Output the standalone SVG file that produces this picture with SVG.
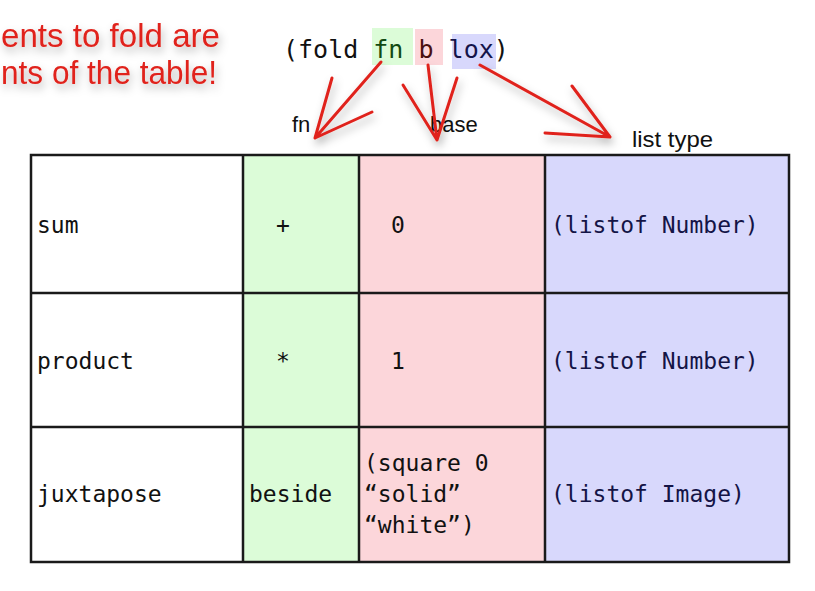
<svg xmlns="http://www.w3.org/2000/svg" width="815" height="591" viewBox="0 0 815 591">
<defs>
<filter id="sh" x="-20%" y="-20%" width="140%" height="160%">
<feDropShadow dx="2" dy="5" stdDeviation="4" flood-color="#000" flood-opacity="0.3"/>
</filter>
<style>
.mono{font-family:"DejaVu Sans Mono","Liberation Mono",monospace;}
.cell{font-size:23px;fill:#111;}
.navy{fill:#141446;}
.lbl{font-family:"Liberation Sans","DejaVu Sans",sans-serif;font-size:22px;fill:#111;}
.red{font-family:"Liberation Sans",Arial,sans-serif;font-size:33px;fill:#e0241c;}
.arr{stroke:#e0241c;stroke-width:3;fill:none;stroke-linecap:round;stroke-linejoin:round;}
.grid{stroke:#1a1a1a;stroke-width:2.5;fill:none;}
</style>
</defs>
<rect width="815" height="591" fill="#fff"/>

<g id="note" filter="url(#sh)">
<text class="red" x="1" y="47" textLength="219" lengthAdjust="spacingAndGlyphs">ents to fold are</text>
<text class="red" x="1" y="84" textLength="216" lengthAdjust="spacingAndGlyphs">nts of the table!</text>
</g>

<g id="code">
<rect x="372" y="28" width="41" height="37" fill="#dcfcd8"/>
<rect x="415" y="29" width="28" height="36" fill="#fcd6da"/>
<rect x="452" y="34" width="44" height="35" fill="#d8d8fc"/>
<text class="mono" x="283" y="58" font-size="25" fill="#111" xml:space="preserve">(fold <tspan fill="#124a12">fn</tspan> <tspan fill="#4a1010">b</tspan> <tspan fill="#14144a">lox</tspan>)</text>
</g>

<g id="labels">
<text class="lbl" x="292" y="132">fn</text>
<text class="lbl" x="430" y="132">base</text>
<text class="lbl" x="632" y="147" textLength="81" lengthAdjust="spacingAndGlyphs">list type</text>
</g>

<g id="connectors" filter="url(#sh)">
<path class="arr" d="M381,62 L315,138 M332,78 L315,138 L372,112"/>
<path class="arr" d="M428,65 L437,140 M403,85 L437,140 L457,78"/>
<path class="arr" d="M480,65 L610,137 M572,86 L610,137 L545,133"/>
</g>

<g id="table">
<rect x="31" y="155" width="212" height="407" fill="#fff"/>
<rect x="243" y="155" width="116" height="407" fill="#dcfcd8"/>
<rect x="359" y="155" width="186" height="407" fill="#fcd6da"/>
<rect x="545" y="155" width="244" height="407" fill="#d8d8fc"/>
<rect class="grid" x="31" y="155" width="758" height="407"/>
<path class="grid" d="M243,155V562M359,155V562M545,155V562M31,293H789M31,427H789"/>
</g>

<g id="row-sum" class="mono cell">
<text x="37" y="233">sum</text>
<text x="283" y="233" text-anchor="middle">+</text>
<text x="391" y="233">0</text>
<text class="navy" x="551" y="233">(listof Number)</text>
</g>
<g id="row-product" class="mono cell">
<text x="37" y="369">product</text>
<text x="283" y="369" text-anchor="middle">*</text>
<text x="391" y="369">1</text>
<text class="navy" x="551" y="369">(listof Number)</text>
</g>
<g id="row-juxtapose" class="mono cell">
<text x="37" y="502">juxtapose</text>
<text x="249" y="502">beside</text>
<text x="364" y="471">(square 0</text>
<text x="364" y="502">“solid”</text>
<text x="364" y="533">“white”)</text>
<text class="navy" x="551" y="502">(listof Image)</text>
</g>
</svg>
